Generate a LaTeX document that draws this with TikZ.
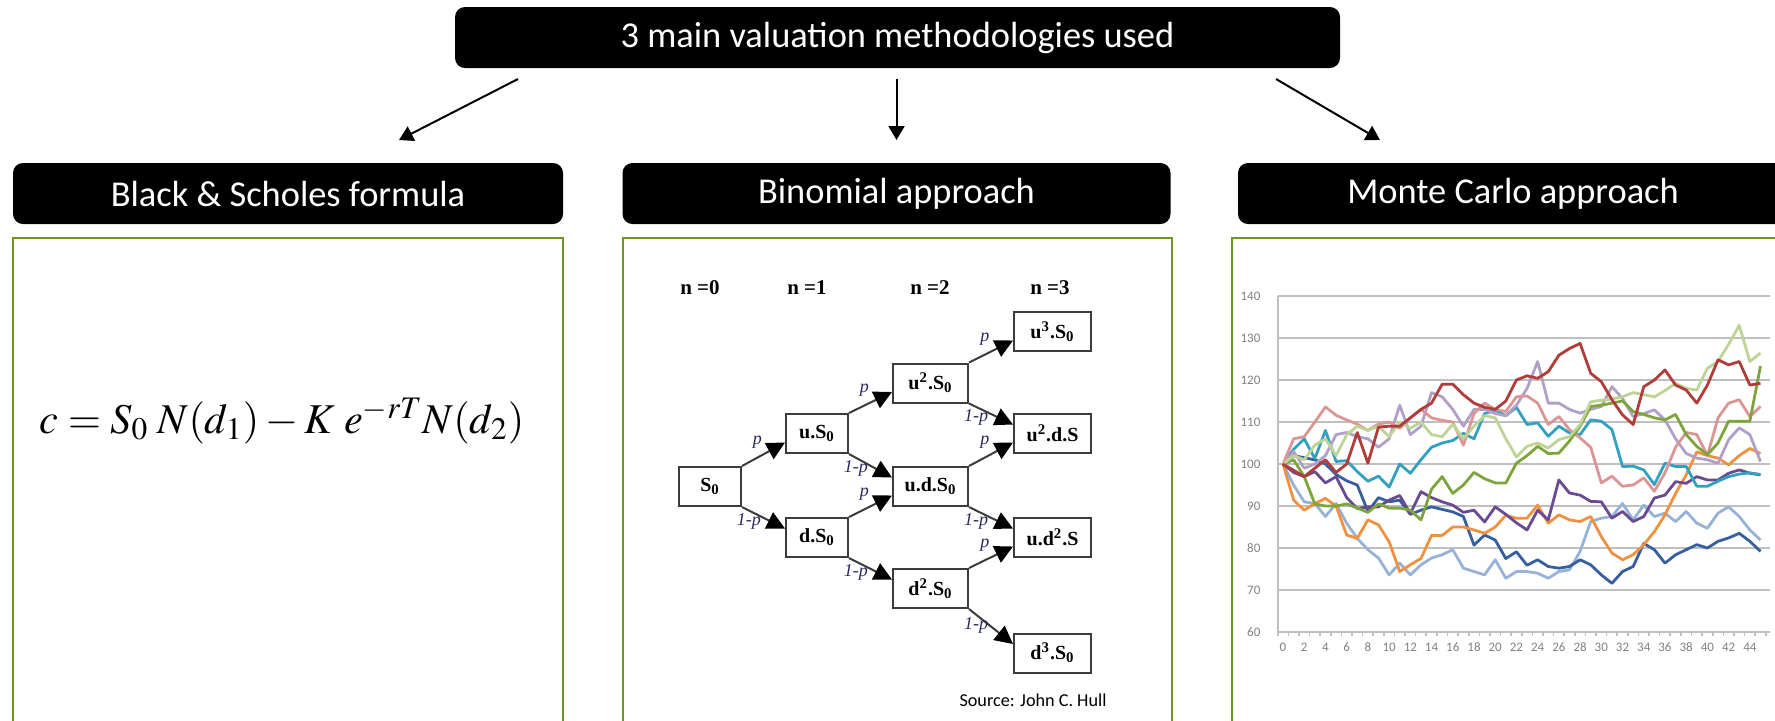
\documentclass[tikz,border=0pt]{standalone}
\usepackage{mathptmx}
\usepackage[no-math]{fontspec}
\setmainfont{Carlito}
\newfontfamily\treefont{Liberation Serif}
\usetikzlibrary{arrows.meta,calc}

\definecolor{framegreen}{RGB}{110,150,35}
\definecolor{treeline}{RGB}{60,60,60}
\definecolor{treelabel}{RGB}{40,40,95}
\definecolor{mcred}{RGB}{175,62,58}
\definecolor{mcpink}{RGB}{218,150,148}
\definecolor{mcgreen}{RGB}{125,165,60}
\definecolor{mclightgreen}{RGB}{190,212,150}
\definecolor{mclavender}{RGB}{176,160,200}
\definecolor{mcteal}{RGB}{50,160,190}
\definecolor{mcpurple}{RGB}{105,75,145}
\definecolor{mcorange}{RGB}{240,145,65}
\definecolor{mcblue}{RGB}{55,95,160}
\definecolor{mclightblue}{RGB}{150,178,214}

\begin{document}
\begin{tikzpicture}[x=0.5pt,y=-0.5pt]
        \tikzstyle{head}=[fill=black,rounded corners=5pt,text=white,inner sep=0pt,minimum height=30.5pt,font=\fontsize{18.2}{21}\selectfont]
        \tikzstyle{frame}=[draw=framegreen,line width=1pt]
        \tikzstyle{down}=[black,line width=1pt,-{Triangle[length=7pt,width=8pt]}]
        \tikzstyle{cell}=[draw=treeline,line width=1pt,minimum height=19.5pt,inner sep=0pt,font=\treefont\bfseries\fontsize{10}{12}\selectfont]
        \tikzstyle{move}=[treeline,line width=1pt,-{Triangle[length=9pt,width=9pt,color=black]}]
        \tikzstyle{prob}=[text=treelabel,inner sep=1pt,font=\treefont\itshape\fontsize{9}{10}\selectfont]
        \tikzstyle{ticklbl}=[text=gray,inner sep=0pt,font=\fontsize{6.5}{7}\selectfont]
        \tikzstyle{gridline}=[gray!50,line width=0.8pt]
        \tikzstyle{walk}=[line width=1.4pt,line join=round]
        \useasboundingbox (0,0) rectangle (1775,720);
        \clip (0,0) rectangle (1775,720);

        % headings
        \node[head,minimum width=442.5pt] (top) at (897.5,37.5) {3 main valuation methodologies used};
        \node[head,minimum width=275pt] (bs) at (288,193.5) {Black \& Scholes formula};
        \node[head,minimum width=274pt] (bin) at (896.5,193.5) {Binomial approach};
        \node[head,minimum width=275pt] (mc) at (1513,193.5) {Monte Carlo approach};
        \coordinate (from1) at (518,79);   \coordinate (to1) at (399,140);
        \coordinate (from2) at (896.5,79); \coordinate (to2) at (896.5,140);
        \coordinate (from3) at (1276,79);  \coordinate (to3) at (1380,140);
        \foreach \k in {1,2,3}
          \draw[down] (from\k) -- (to\k);
        \draw[frame] (13,238) rectangle (563,740);
        \draw[frame] (623,238) rectangle (1172,740);
        \draw[frame] (1232,238) rectangle (1800,740);

        % Black & Scholes
        \node (formula) at (282,421) {\fontsize{21.2}{24}\selectfont$c=S_0\;N(d_1)-K\;e^{-rT}N(d_2)$};

        % binomial tree
        \foreach \x/\n in {700/0,807/1,930/2,1050/3}
          \node[font=\treefont\bfseries\fontsize{10.5}{12}\selectfont] (n\n) at (\x,288) {n =\n};
        \node[cell,minimum width=31pt] (s0) at (710,486.5) {S\textsubscript{0}};
        \node[cell,minimum width=31pt] (us) at (817,433.5) {u.S\textsubscript{0}};
        \node[cell,minimum width=31pt] (ds) at (817,537.5) {d.S\textsubscript{0}};
        \node[cell,minimum width=37.5pt] (uus) at (930.5,383) {u\textsuperscript{2}.S\textsubscript{0}};
        \node[cell,minimum width=37.5pt] (uds) at (930.5,486.5) {u.d.S\textsubscript{0}};
        \node[cell,minimum width=37.5pt] (dds) at (930.5,588.5) {d\textsuperscript{2}.S\textsubscript{0}};
        \node[cell,minimum width=38.5pt] (uuus) at (1052.5,331.5) {u\textsuperscript{3}.S\textsubscript{0}};
        \node[cell,minimum width=38.5pt] (uuds) at (1052.5,433.5) {u\textsuperscript{2}.d.S};
        \node[cell,minimum width=38.5pt] (udds) at (1052.5,537.5) {u.d\textsuperscript{2}.S};
        \node[cell,minimum width=38.5pt] (ddds) at (1052.5,653) {d\textsuperscript{3}.S\textsubscript{0}};
        \foreach \a/\b in {s0/us,us/uus,ds/uds,uus/uuus,uds/uuds,dds/udds}
          \draw[move] (\a.north east) -- ($(\b.west)+(0,9)$) node[prob,pos=0.36,above=3pt] {p};
        \foreach \a/\b in {s0/ds,us/uds,ds/dds,uus/uuds,uds/udds,dds/ddds}
          \draw[move] (\a.south east) -- ($(\b.west)+(0,-9)$) node[prob,pos=0.16,below=0pt] {1-p};
        \node[font=\fontsize{9.1}{11}\selectfont] (source) at (1033,700) {Source: John C. Hull};

        % Monte Carlo paths
        \begin{scope}[shift={(1283,884)},x=5.305pt,y=2.1pt]
          \foreach \v in {70,80,...,140}
            \draw[gridline] (-0.5,\v) -- (45.9,\v);
          \draw[gridline] (-0.5,60) -- (45.9,60);
          \draw[gridline] (-0.5,60) -- (-0.5,140);
          \foreach \t in {0,...,46}
            \draw[gridline] (\t-0.5,60) -- (\t-0.5,59);
          \foreach \v in {60,70,...,140}
            \node[ticklbl,anchor=east] (y\v) at (-2.1,\v) {\v};
          \foreach \t in {0,2,...,44}
            \node[ticklbl] (x\t) at (\t,56.4) {\t};
          \draw[walk,mclightblue] (0,100) \foreach \v [count=\i] in {95,91,90.6,87.5,90.6,85.9,82.3,79.6,77.6,73.6,76.4,73.6,76,77.6,78.4,79.6,75.2,74.4,73.6,77.2,72.8,74.4,74.4,74,72.8,74.4,74.8,79.2,86.3,87.1,87.5,90.6,86.7,90.2,87.5,88.3,86.3,88.7,85.9,84.7,88.3,89.8,87.5,84.3,81.9} {-- (\i,\v)};
          \draw[walk,mcblue] (0,100) \foreach \v [count=\i] in {102,101.5,101,100,97.5,96,95,88.7,92,91,91.4,88,89,89.8,89.2,88.6,87.5,80.7,83.1,81.9,77.5,79.1,75.9,77.2,75.6,75.2,75.6,77.2,76,73.6,71.6,74.4,75.6,81.1,79.6,76.4,78.4,79.6,80.8,80,81.6,82.4,83.5,81.6,79.2} {-- (\i,\v)};
          \draw[walk,mcorange] (0,100) \foreach \v [count=\i] in {91.4,89,90.6,91.8,90,83.1,82.3,86.7,85.5,81.5,74.4,76,77.5,83,83,85,85,84.3,83.5,85,87.8,87.1,87.1,90.2,85.9,87.9,86.7,86.3,87.5,82.7,78.8,77.2,78.4,80.8,83.9,87.9,93,97.4,102.9,102,101.4,99.8,102,103.7,102.5} {-- (\i,\v)};
          \draw[walk,mcpurple] (0,100) \foreach \v [count=\i] in {98,97,98.2,95.5,97,92,89.4,89.8,89.8,91.4,92.5,88.2,93.4,92,91,90.2,88.5,89,86.2,89.8,88,86,84.3,89,86.7,96.2,93.1,92.6,91.1,91,87.1,88.7,86.3,87.5,91.9,92.6,95.8,95.4,97,96.2,96.2,97.8,98.6,97.8,97.4} {-- (\i,\v)};
          \draw[walk,mcteal] (0,100) \foreach \v [count=\i] in {103.5,106,101.3,108,100.6,100.8,98.2,95.9,97.1,94.5,100,97.8,101,104,105,105.6,107.3,106,112,112.8,111.5,113.5,109.4,109.8,106.6,109,107.4,107,110.5,110.2,108.2,99.4,99.5,98.6,95.1,100.2,99.4,99.4,94.7,94.7,95.9,97,97.6,97.9,97.5} {-- (\i,\v)};
          \draw[walk,mclavender] (0,100) \foreach \v [count=\i] in {103,99,100,102,107,107.5,106.5,106,104,106,114,107,109,117,116,113,109,113,113,112,111.5,114,118,124.4,114.5,114.5,113,112.1,113,113.7,118.4,115.6,111.3,112,112.9,110.5,106,102.5,101.4,101,100.2,105.8,108.6,107,100.6} {-- (\i,\v)};
          \draw[walk,mcpink] (0,100) \foreach \v [count=\i] in {106,106.5,110,113.6,111.6,110.5,109.5,108,109.5,110,108.5,111,113,111,110.4,110,104.5,112,114.5,113,112.5,116,116.2,114.5,109.4,111.3,108.2,106.2,104,95.5,97.1,94.7,95,96.7,93.5,97.9,104,107.5,107,102,111,114.5,115.3,111.3,113.7} {-- (\i,\v)};
          \draw[walk,mcgreen] (0,100) \foreach \v [count=\i] in {101,97,90.5,90,90,90.5,89.5,88.5,90.5,89.5,89.5,89,86.7,94,97,93,95,98,96.5,95.5,95.5,100.2,102,104.2,102.5,102.6,105.5,109,113.7,114,114.5,115,112.5,111.8,111,110.5,111.8,107,104.2,102.2,105,110.2,110.2,110.2,123.3} {-- (\i,\v)};
          \draw[walk,mclightgreen] (0,100) \foreach \v [count=\i] in {102,101,104.5,106,102,107,109,108,109,106.5,110,108.5,110,107,106.5,109.5,106,109,111.5,111,106,101.7,104.2,105,103.8,105.8,106.5,109.4,114.8,115.2,115.5,116,117,116.5,116,117.5,119.2,118,117.6,122.8,124.4,128.5,133,124.4,126.4} {-- (\i,\v)};
          \draw[walk,mcred] (0,100) \foreach \v [count=\i] in {98.5,97,99,101,98,100,107.5,100.2,108.8,109,109,111,113,114.5,119,119,116.5,114.5,113.5,113,115,120,121,120.4,122,125.9,127.5,128.7,121.6,119.6,115.3,111.7,109.4,118.4,120,122.4,118.8,117.6,114.5,118.8,124.8,123.6,124.4,118.8,119.2} {-- (\i,\v)};
        \end{scope}
\end{tikzpicture}
\end{document}
